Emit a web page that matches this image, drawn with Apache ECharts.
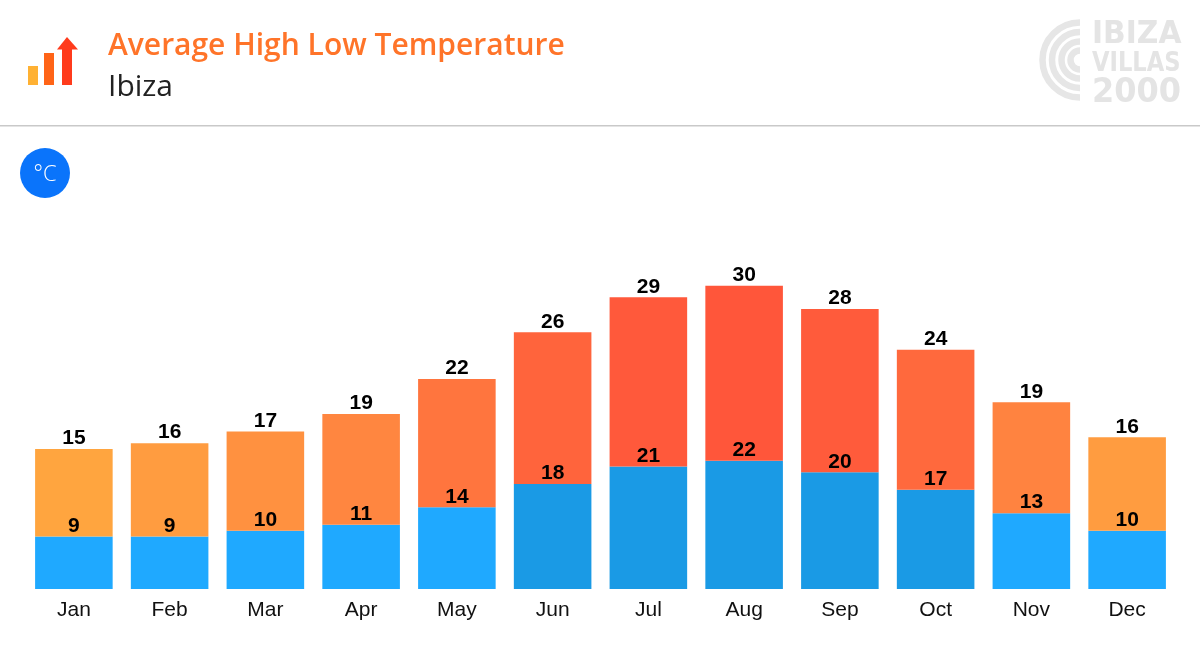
<!DOCTYPE html>
<html>
<head>
<meta charset="utf-8">
<title>Average High Low Temperature</title>
<script src="https://cdn.jsdelivr.net/npm/echarts@6/dist/echarts.min.js"></script>
<style>
  html, body { margin: 0; padding: 0; background: #fff; }
  #main { width: 1200px; height: 668px; }
</style>
</head>
<body>
<div id="main"></div>
<script>
const months = ['Jan', 'Feb', 'Mar', 'Apr', 'May', 'Jun', 'Jul', 'Aug', 'Sep', 'Oct', 'Nov', 'Dec'];
const lowTemps = [9, 9, 10, 11, 14, 18, 21, 22, 20, 17, 13, 10];
const highTemps = [15, 16, 17, 19, 22, 26, 29, 30, 28, 24, 19, 16];

// per month bar colours
const highColors = ['#ffa53f', '#ff9c40', '#ff9140', '#ff8640', '#ff753e', '#ff643c', '#ff593b', '#ff563a', '#ff5b3b', '#ff693d', '#ff8340', '#ff9c40'];
const lowColors = ['#1fa9ff', '#1fa9ff', '#1fa9ff', '#1fa9ff', '#1fa9ff', '#1a9ae5', '#1a9ae5', '#1a9ae5', '#1a9ae5', '#1a9ae5', '#1fa9ff', '#1fa9ff'];

const chart = echarts.init(document.getElementById('main'));

const barLabel = {
  show: true,
  position: 'top',
  distance: 0,
  color: '#000',
  fontFamily: '"Liberation Sans", sans-serif',
  fontWeight: 'bold',
  fontSize: 21
};

// logo rings
const logoRings = [37.5, 28, 18.5, 9.5].map(r => ({
  type: 'arc',
  shape: { cx: 1080, cy: 60, r: r, startAngle: Math.PI / 2, endAngle: Math.PI * 1.5, clockwise: true },
  style: { fill: null, stroke: '#e6e6e6', lineWidth: 6.5 }
}));

const logoText = (text, y, size, w) => ({
  type: 'text',
  x: 1092,
  y: y,
  scaleX: w,
  style: { text: text, fill: '#e4e4e4', font: 'bold ' + size + 'px "DejaVu Sans", sans-serif', textVerticalAlign: 'middle' }
});

chart.setOption({
  animation: false,
  backgroundColor: '#fff',
  title: {
    text: 'Average High Low Temperature',
    subtext: 'Ibiza',
    left: 108,
    top: 31,
    padding: 0,
    itemGap: 11,
    textStyle: { color: '#ff7429', fontFamily: '"Open Sans", sans-serif', fontWeight: 600, fontSize: 30 },
    subtextStyle: { color: '#222', fontFamily: '"Open Sans", sans-serif', fontWeight: 400, fontSize: 30 }
  },
  grid: { left: 26, right: 25, top: 239, bottom: 79 },
  xAxis: {
    type: 'category',
    data: months,
    axisLine: { show: false },
    axisTick: { show: false },
    axisLabel: { color: '#111', fontFamily: '"Liberation Sans", sans-serif', fontSize: 21, margin: 11 }
  },
  yAxis: { type: 'value', min: 0, max: 60, show: false },
  series: [
    {
      name: 'Low',
      type: 'bar',
      stack: 'temp',
      barWidth: '81%',
      data: lowTemps,
      itemStyle: { color: p => lowColors[p.dataIndex] },
      label: barLabel
    },
    {
      name: 'High',
      type: 'bar',
      stack: 'temp',
      barWidth: '81%',
      data: highTemps,
      itemStyle: { color: p => highColors[p.dataIndex] },
      label: barLabel
    }
  ],
  graphic: [
    // header divider
    { type: 'rect', shape: { x: 0, y: 125, width: 1200, height: 1.5 }, style: { fill: '#c9c9c9' } },
    // bars-and-arrow icon
    { type: 'rect', shape: { x: 28, y: 66, width: 10, height: 19 }, style: { fill: '#ffb133' } },
    { type: 'rect', shape: { x: 44, y: 53, width: 10, height: 32 }, style: { fill: '#ff6417' } },
    { type: 'rect', shape: { x: 62, y: 49, width: 10, height: 36 }, style: { fill: '#ff3b1c' } },
    { type: 'polygon', shape: { points: [[57, 49.5], [67, 37], [78, 49.5]] }, style: { fill: '#ff3b1c' } },
    // unit badge
    { type: 'circle', shape: { cx: 45, cy: 173, r: 25 }, style: { fill: '#0a74fb' } },
    {
      type: 'text',
      x: 45,
      y: 175,
      style: { text: '°C', fill: '#fff', font: '300 22px "Open Sans", sans-serif', textAlign: 'center', textVerticalAlign: 'middle' }
    },
    // logo
    ...logoRings,
    logoText('IBIZA', 35, 32, 0.93),
    logoText('VILLAS', 64, 26, 0.87),
    logoText('2000', 93, 34, 0.94)
  ]
});

window.addEventListener('resize', () => chart.resize());
</script>
</body>
</html>
